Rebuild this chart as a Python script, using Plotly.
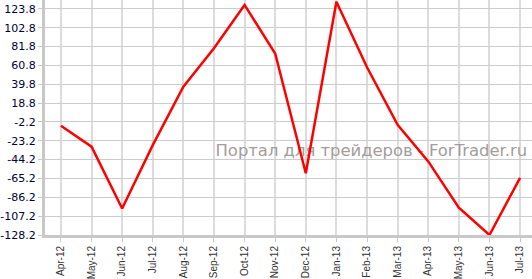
import plotly.graph_objects as go

months = ["Apr-12", "May-12", "Jun-12", "Jul-12", "Aug-12", "Sep-12", "Oct-12", "Nov-12",
          "Dec-12", "Jan-13", "Feb-13", "Mar-13", "Apr-13", "May-13", "Jun-13", "Jul-13"]
values = [-6.4, -29.8, -98.6, -28.0, 37.0, 79.9, 128.2, 74.1,
          -59.4, 131.8, 58.7, -5.3, -46.2, -97.8, -128.2, -64.6]
y_ticks = [-128.2, -107.2, -86.2, -65.2, -44.2, -23.2, -2.2, 18.8, 39.8, 60.8, 81.8, 102.8, 123.8]
watermark = "Портал для трейдеров - ForTrader.ru"

x_idx = list(range(len(months)))

fig = go.Figure()
# watermark drawn beneath the line
fig.add_trace(go.Scatter(
    x=[10.14], y=[-36.0], mode="text", text=[watermark],
    textfont=dict(family="DejaVu Sans", size=16.4, color="#a39c9c"),
    hoverinfo="skip", showlegend=False,
))
fig.add_trace(go.Scatter(
    x=x_idx, y=values, mode="lines",
    line=dict(color="#ff0000", width=2.5),
    showlegend=False,
))

fig.update_layout(
    width=532, height=279,
    margin=dict(l=43, r=0, t=0, b=40),
    paper_bgcolor="white", plot_bgcolor="white",
    xaxis=dict(
        range=[-0.52, 15.39], tickmode="array", tickvals=x_idx, ticktext=months,
        tickangle=-90, ticks="outside", ticklen=4, tickcolor="#c8c8c8",
        showgrid=True, gridcolor="#dcdcdc", gridwidth=2,
        showline=True, linecolor="#c8c8c8", linewidth=3,
        tickfont=dict(family="Liberation Sans", size=10, color="#333333"),
        zeroline=False, fixedrange=True,
    ),
    yaxis=dict(
        range=[-128.2, 133.7], tickmode="array", tickvals=y_ticks,
        ticktext=[f"{v:.1f}" for v in y_ticks],
        ticks="outside", ticklen=4, tickcolor="#c8c8c8",
        showgrid=True, gridcolor="#cccccc", gridwidth=1,
        showline=True, linecolor="#c8c8c8", linewidth=3,
        tickfont=dict(family="DejaVu Sans", size=11, color="#000033"),
        zeroline=False, fixedrange=True,
    ),
)

fig.write_html("out.html")
